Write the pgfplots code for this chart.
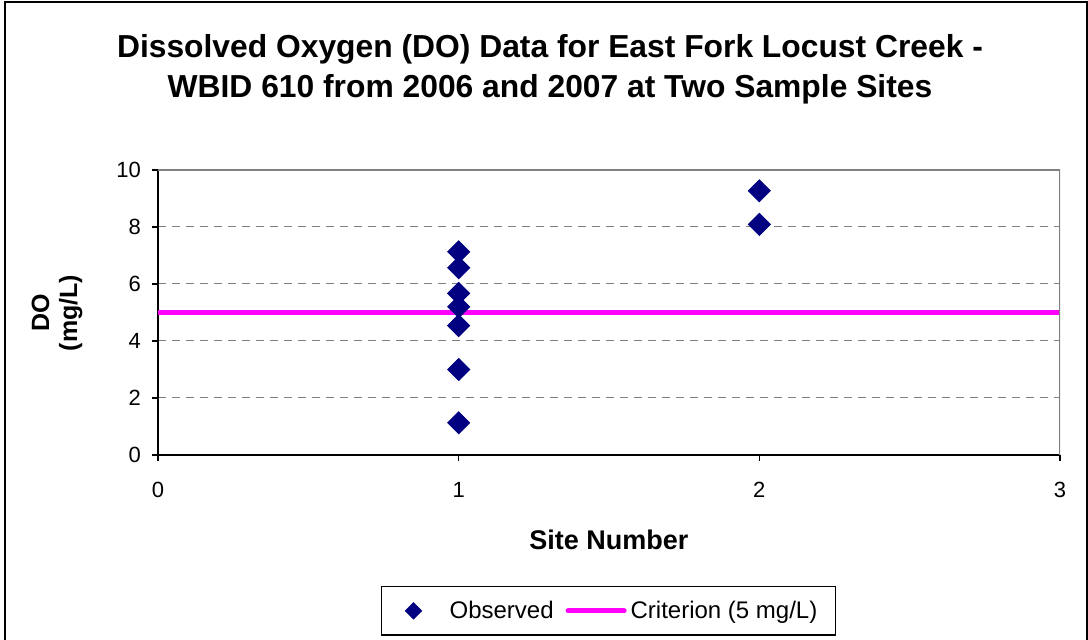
\documentclass[border=0pt]{standalone}
\usepackage{pgfplots}
\pgfplotsset{compat=1.18}
\usepackage{fontspec}
\setmainfont{Liberation Sans}
\definecolor{obsblue}{RGB}{0,0,128}
\definecolor{crit}{RGB}{255,0,255}
\definecolor{gridgray}{RGB}{128,128,128}
\begin{document}
\begin{tikzpicture}
\useasboundingbox (0,0) rectangle (544pt,320pt);
\draw[line width=1pt] (2.5pt,-5pt) rectangle (543.5pt,319pt);
\begin{axis}[
  at={(79pt,92.5pt)}, anchor=south west,
  scale only axis, width=451pt, height=142.5pt,
  xmin=0, xmax=3, ymin=0, ymax=10,
  xtick={0,1,2,3}, ytick={0,2,4,6,8,10},
  axis x line*=bottom, axis y line*=left,
  axis line style={black, line width=0.6pt},
  x axis line style={-}, y axis line style={-},
  tick align=outside, major tick length=3pt,
  tick style={black, line width=0.6pt},
  ymajorgrids,
  grid style={gridgray, line width=0.5pt, dash pattern=on 4pt off 3pt},
  /pgf/number format/assume math mode=true,
  ticklabel style={font=\fontsize{11}{13}\selectfont},
  xticklabel style={yshift=-7pt},
  yticklabel style={xshift=-2pt},
  title={Dissolved Oxygen (DO) Data for East Fork Locust Creek -\\WBID 610 from 2006 and 2007 at Two Sample Sites},
  title style={at={(axis description cs:0.4346,1.312)}, anchor=center, align=center, font=\fontsize{15.9}{20}\selectfont\bfseries},
  xlabel={Site Number},
  xlabel style={at={(axis description cs:0.5,-0.298)}, anchor=center, font=\fontsize{13.5}{15}\selectfont\bfseries},
  ylabel={DO\\[3pt](mg/L)},
  ylabel style={at={(axis description cs:-0.112,0.498)}, anchor=center, align=center, font=\fontsize{12.5}{11}\selectfont\bfseries},
  legend columns=2,
  legend style={at={(axis description cs:0.4994,-0.547)}, anchor=center, draw=black, line width=0.6pt,
    font=\fontsize{12}{14}\selectfont, inner xsep=7pt, inner ysep=5pt,
    /tikz/every even column/.append style={column sep=4pt}},
  legend image code/.code={\draw[#1] (0pt,0pt) -- (0pt,0pt);},
]
\addplot[only marks, mark=square*, mark size=3.9pt, mark options={rotate=45, fill=obsblue, draw=obsblue},
  legend image code/.code={\draw[mark=square*, mark size=2.8pt, mark options={rotate=45, fill=obsblue, draw=obsblue}] plot coordinates {(9pt,0pt)};\draw[draw=none] (0pt,0pt) -- (25pt,0pt);}]
coordinates {
(1,7.13) (1,6.57) (1,5.67) (1,5.2) (1,4.54) (1,3.0) (1,1.13)
(2,9.27) (2,8.09)
};
\addlegendentry{Observed}
\addplot[crit, line width=2.5pt, no marks,
  legend image code/.code={\draw[crit, line width=2.5pt, line cap=round] (0pt,0pt) -- (28pt,0pt);}]
coordinates {(0,5) (3,5)};
\addlegendentry{Criterion (5 mg/L)}
\draw[gridgray, line width=0.8pt] (rel axis cs:0,1) -- (rel axis cs:1,1) -- (rel axis cs:1,0);
\end{axis}
\end{tikzpicture}
\end{document}
